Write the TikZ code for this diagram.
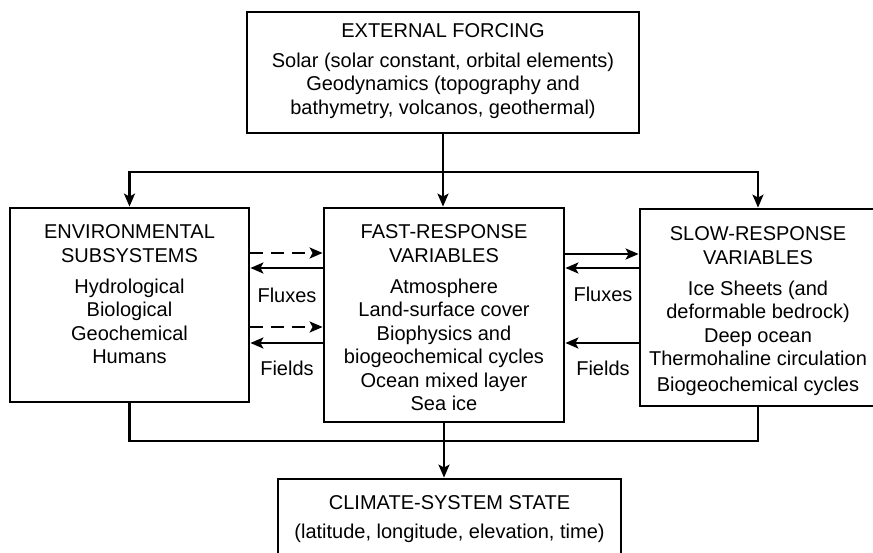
\documentclass[tikz,border=0pt]{standalone}
\usepackage{fontspec}
\setmainfont{Liberation Sans}
\usetikzlibrary{positioning, arrows.meta}

\begin{document}
\begin{tikzpicture}[x=1pt, y=-1pt,
			panel/.style={rectangle, draw=black, line width=2.8pt, fill=white},
			paneltext/.style={align=center, inner sep=0pt, font=\fontsize{20}{23.5}\selectfont},
			tag/.style={inner sep=0pt, font=\fontsize{20}{23.5}\selectfont},
			flow/.style={-{Stealth[length=13pt, width=11pt, inset=3pt]}, line width=2.2pt},
			feed/.style={flow, dash pattern=on 13pt off 8pt},
			wire/.style={line width=2.2pt}
			]
			\clip (0,0) rectangle (873,553);
			\fill[white] (0,0) rectangle (873,553);
			
			% boxes
			\node[panel, minimum width=392pt, minimum height=121pt] (forcing) at (443,72.5) {};
			\node[paneltext, below=13pt of forcing.north] (forcingtext) {EXTERNAL FORCING\\[6pt]
				Solar (solar constant, orbital elements)\\
				Geodynamics (topography and\\
				bathymetry, volcanos, geothermal)};
			
			\node[panel, minimum width=239pt, minimum height=194pt] (env) at (129.5,305) {};
			\node[paneltext, below=18pt of env.north] (envtext) {ENVIRONMENTAL\\ SUBSYSTEMS\\[7.5pt]
				Hydrological\\ Biological\\ Geochemical\\ Humans};
			
			\node[panel, minimum width=240pt, minimum height=214pt] (fast) at (444,315) {};
			\node[paneltext, below=18pt of fast.north] (fasttext) {FAST-RESPONSE\\ VARIABLES\\[7.5pt]
				Atmosphere\\ Land-surface cover\\ Biophysics and\\ biogeochemical cycles\\
				Ocean mixed layer\\ Sea ice};
			
			\node[panel, minimum width=236pt, minimum height=197pt] (slow) at (758,307.5) {};
			\node[paneltext, below=19pt of slow.north] (slowtext) {SLOW-RESPONSE\\ VARIABLES\\[7.5pt]
				Ice Sheets (and\\ deformable bedrock)\\ Deep ocean\\ Thermohaline circulation\\[2.5pt]
				Biogeochemical cycles};
			
			\node[panel, minimum width=343pt, minimum height=110pt] (state) at (449.5,534) {};
			\node[paneltext, below=18pt of state.north] (statetext) {CLIMATE-SYSTEM STATE\\[5.5pt]
				(latitude, longitude, elevation, time)};
			
			% forcing to the three groups
			\coordinate (split) at (forcing.south |- 0,172);
			\draw[flow] (forcing.south) -- (forcing.south |- fast.north);
			\draw[flow] (split) -| (env.north);
			\draw[flow] (split) -| (slow.north);
			
			% exchanges
			\draw[feed] (env.east |- 0,253) -- (fast.west |- 0,253);
			\draw[flow] (fast.west |- 0,268) -- (env.east |- 0,268);
			\draw[feed] (env.east |- 0,327) -- (fast.west |- 0,327);
			\draw[flow] (fast.west |- 0,343) -- (env.east |- 0,343);
			\node[tag] (fluxleft) at (287,295) {Fluxes};
			\node[tag] (fieldleft) at (287,368) {Fields};
			
			\draw[flow] (fast.east |- 0,254) -- (slow.west |- 0,254);
			\draw[flow] (slow.west |- 0,268) -- (fast.east |- 0,268);
			\draw[flow] (slow.west |- 0,343) -- (fast.east |- 0,343);
			\node[tag] (fluxright) at (603,294) {Fluxes};
			\node[tag] (fieldright) at (603,368) {Fields};
			
			% collecting into the state
			\coordinate (joinleft) at (env.south |- 0,441);
			\coordinate (joinright) at (slow.south |- 0,441);
			\draw[wire] (env.south) -- (joinleft) -- (joinright) -- (slow.south);
			\draw[flow] (fast.south) -- (fast.south |- state.north);
		\end{tikzpicture}
\end{document}
